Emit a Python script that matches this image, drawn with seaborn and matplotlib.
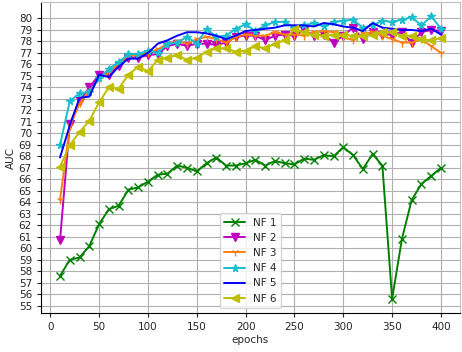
import matplotlib
matplotlib.use("Agg")
import matplotlib.pyplot as plt
import seaborn as sns
import pandas as pd

epochs = list(range(10, 401, 10))

nf1 = [57.6, 59.0, 59.2, 60.2, 62.1, 63.4, 63.7, 65.1, 65.3, 65.8,
       66.4, 66.5, 67.2, 67.0, 66.7, 67.4, 67.9, 67.2, 67.2, 67.4,
       67.7, 67.2, 67.6, 67.4, 67.3, 67.8, 67.7, 68.1, 68.0, 68.8,
       68.1, 66.9, 68.2, 67.2, 55.6, 60.8, 64.2, 65.6, 66.3, 67.0]
nf2 = [60.7, 70.8, 72.8, 74.0, 75.1, 75.1, 75.9, 76.6, 76.6, 76.8,
       76.9, 77.6, 77.8, 77.6, 77.8, 77.8, 77.7, 77.9, 78.4, 78.5,
       78.5, 78.1, 78.5, 78.6, 78.5, 79.0, 78.5, 78.6, 77.9, 78.5,
       79.2, 78.2, 78.8, 78.6, 78.6, 78.8, 77.9, 78.8, 79.0, 78.9]
nf3 = [64.2, 70.6, 72.6, 73.7, 74.7, 75.3, 76.1, 76.8, 76.8, 77.0,
       77.3, 77.8, 78.0, 77.8, 78.2, 78.4, 78.2, 77.9, 78.4, 78.6,
       78.5, 78.5, 78.8, 78.6, 78.6, 78.5, 78.8, 78.9, 78.8, 78.4,
       78.1, 78.7, 78.8, 78.5, 78.2, 77.9, 77.9, 78.2, 77.6, 77.0]
nf4 = [69.0, 72.8, 73.5, 73.6, 74.8, 75.6, 76.2, 76.9, 76.9, 77.2,
       77.0, 77.8, 77.9, 78.4, 77.8, 79.1, 78.4, 78.5, 79.1, 79.5,
       78.9, 79.4, 79.7, 79.7, 79.2, 79.4, 79.6, 79.3, 79.7, 79.8,
       79.9, 79.2, 79.4, 79.8, 79.7, 79.9, 80.1, 79.4, 80.2, 79.1]
nf5 = [67.9, 70.7, 73.1, 73.2, 75.1, 74.9, 75.8, 76.5, 76.5, 77.0,
       77.8, 78.1, 78.5, 78.8, 78.8, 78.7, 78.5, 78.2, 78.5, 78.9,
       79.0, 79.1, 79.2, 79.4, 79.4, 79.4, 79.3, 79.6, 79.5, 79.3,
       79.2, 78.9, 79.6, 79.2, 79.1, 79.0, 79.0, 78.9, 79.1, 78.6]
nf6 = [67.1, 69.0, 70.1, 71.1, 72.7, 74.0, 73.9, 75.1, 75.8, 75.4,
       76.4, 76.6, 76.8, 76.4, 76.6, 77.1, 77.4, 77.4, 77.1, 77.2,
       77.6, 77.4, 77.8, 78.1, 79.1, 78.8, 78.6, 78.5, 78.6, 78.6,
       78.5, 78.5, 78.6, 78.8, 78.8, 78.5, 78.5, 78.2, 78.1, 78.3]

labels = ["NF 1", "NF 2", "NF 3", "NF 4", "NF 5", "NF 6"]
series = [nf1, nf2, nf3, nf4, nf5, nf6]
colors = ["green", "m", "tab:orange", "tab:cyan", "b", "y"]
markers = ["x", "v", "1", "*", None, "<"]
yticks = list(range(55, 81))
xticks = [0, 50, 100, 150, 200, 250, 300, 350, 400]

sns.set_style("ticks")
plt.rcParams['font.family'] = ['DejaVu Sans']

fig = plt.figure(figsize=(4.62, 3.52), dpi=100)
ax = fig.add_axes([0.0887, 0.1108, 0.907, 0.8835])

for lab, vals, c, m in zip(labels, series, colors, markers):
    df = pd.DataFrame({"epochs": epochs, "AUC": vals})
    kw = dict(marker=m, markersize=5.5, markeredgecolor=c,
              markerfacecolor=c, markeredgewidth=1.0) if m else {}
    sns.lineplot(data=df, x="epochs", y="AUC", color=c, label=lab,
                 linewidth=1.4, ax=ax, **kw)

ax.set_yticks(yticks)
ax.set_xticks(xticks)
ax.grid(True, color="#b0b0b0", linewidth=0.8)
ax.tick_params(labelsize=7.5, length=3, width=0.8)
ax.set_xlabel("epochs", fontsize=7.5, labelpad=2)
ax.set_ylabel("AUC", fontsize=7.5, labelpad=2)
for s in ["top", "right"]:
    ax.spines[s].set_color("#c0c0c0")
for s in ["left", "bottom"]:
    ax.spines[s].set_color("black")
ax.legend(loc="lower center", fontsize=7.5, frameon=True, framealpha=0.8,
          edgecolor="#cccccc", fancybox=True)

fig.savefig("out.png", dpi=100)
